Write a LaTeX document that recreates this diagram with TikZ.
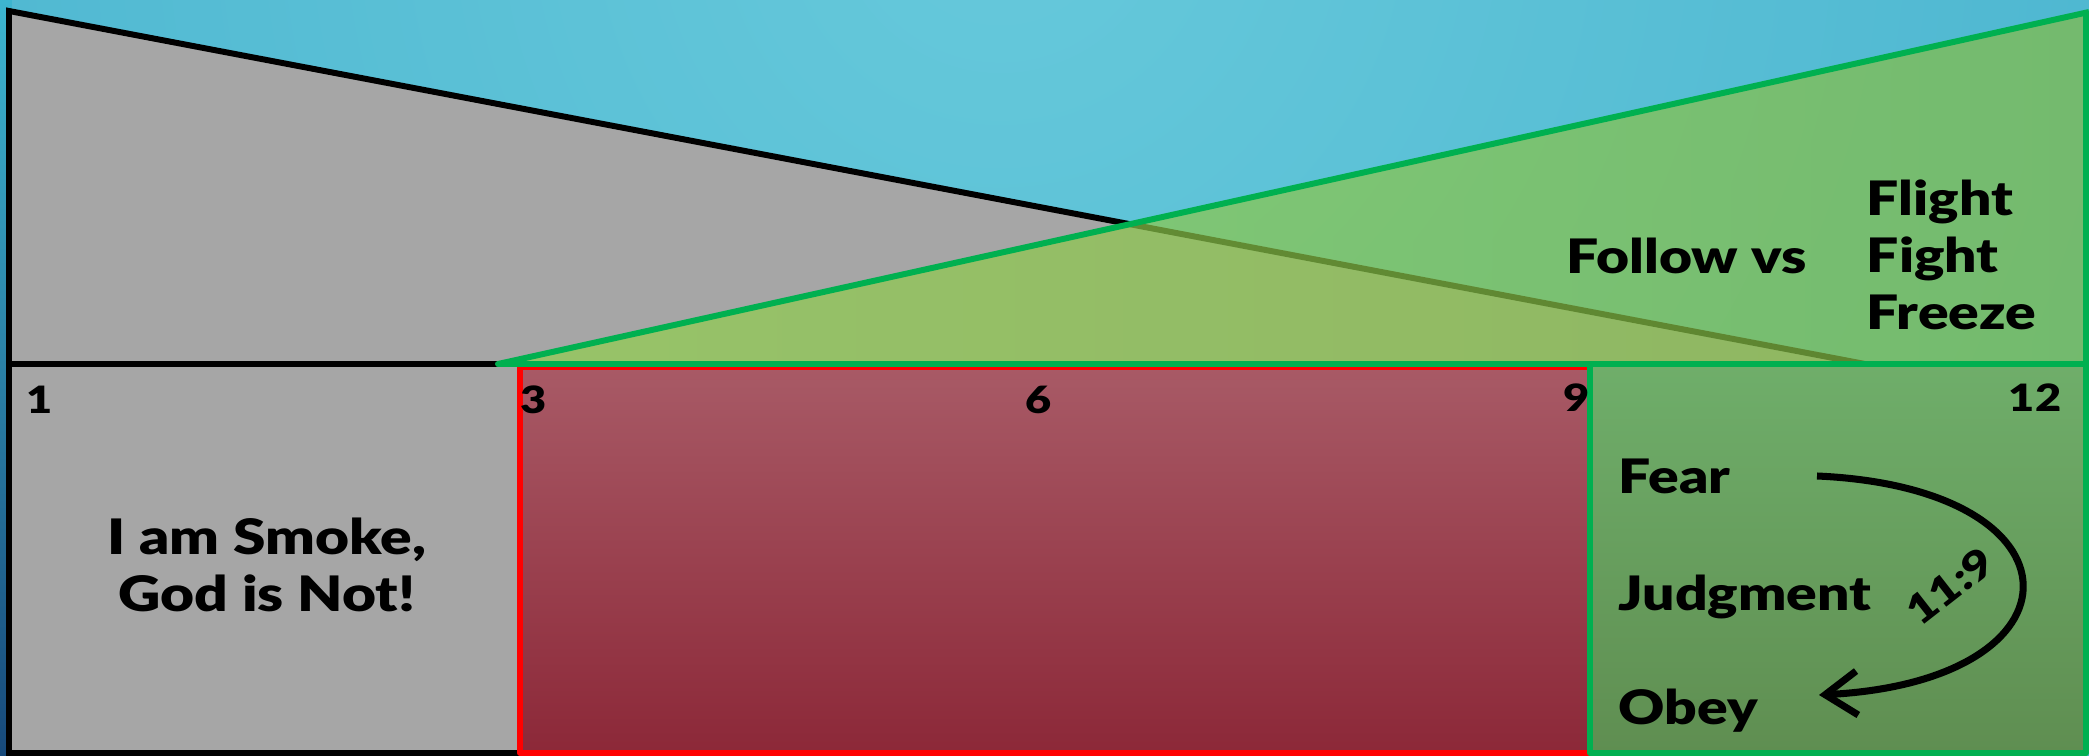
\documentclass[tikz,border=0pt]{standalone}
\usepackage{fontspec}
\setmainfont{Liberation Sans}
\newfontfamily\heavyfont{Lato Black}[FakeStretch=1.2]
\usetikzlibrary{arrows.meta}

\definecolor{bgmid}{HTML}{66C9DB}
\definecolor{bgout}{HTML}{2799C0}
\definecolor{bgleft}{HTML}{3DB5CF}
\definecolor{bgdark}{HTML}{17497A}
\definecolor{boxgray}{HTML}{A6A6A6}
\definecolor{redtop}{HTML}{A85A66}
\definecolor{redbot}{HTML}{8C2838}
\definecolor{greentop}{HTML}{6FAE6A}
\definecolor{greenbot}{HTML}{5F8E51}
\definecolor{lightgreen}{HTML}{92D050}
\definecolor{deepgreen}{HTML}{84BC44}
\definecolor{bordergreen}{HTML}{00B050}

\tikzset{
  lbl/.style={font=\heavyfont\fontsize{13.5}{16.3}\selectfont, inner sep=0pt},
  bigtxt/.style={font=\heavyfont\fontsize{13.9}{16}\selectfont, inner sep=0pt, align=center},
  num/.style={font=\heavyfont\fontsize{10.7}{12}\selectfont, inner sep=0pt},
  edge/.style={line width=1.7pt, line join=round},
}

\begin{document}
\begin{tikzpicture}
    \useasboundingbox (0,0) rectangle (20.89,7.56);
    \begin{scope}
        \clip (0,0) rectangle (20.89,7.56);
        \shade[inner color=bgmid, outer color=bgout] (10,8.5) circle (30);
    \end{scope}
    \shade[top color=bgleft, bottom color=bgdark] (0,0) rectangle (0.12,7.56);

    \fill[boxgray] (0.09,7.45) -- (18.65,3.92) -- (0.09,3.92) -- cycle;
    \fill[boxgray] (0.09,0.03) rectangle (5.20,3.92);
    \draw[line width=1.7pt] (18.65,3.92) -- (0.09,7.45) -- (0.09,0.03) -- (5.20,0.03);
    \draw[edge] (0.09,3.92) -- (5.0,3.92);

    \shade[top color=redtop, bottom color=redbot] (5.20,0.03) rectangle (15.90,3.89);
    \draw[edge, red] (5.20,0.03) rectangle (15.90,3.89);
    \shade[top color=greentop, bottom color=greenbot] (15.90,0.03) rectangle (20.86,3.92);
    \draw[edge, bordergreen] (15.90,0.03) rectangle (20.86,3.92);

    \shade[left color=lightgreen, right color=deepgreen, fill opacity=0.7] (4.98,3.92) -- (20.89,7.44) -- (20.89,3.92) -- cycle;
    \draw[edge, bordergreen] (20.86,3.92) -- (4.98,3.92) -- (20.89,7.44);
    \draw[edge, bordergreen] (20.86,7.44) -- (20.86,3.92);

    \node[num] (one) at (0.40,3.56) {1};
    \node[num] (three) at (5.34,3.56) {3};
    \node[num] (six) at (10.39,3.56) {6};
    \node[num] (nine) at (15.77,3.58) {9};
    \node[num] (twelve) at (20.35,3.58) {12};

    \node[bigtxt] (smoke) at (2.67,1.91) {I am Smoke,\\God is Not!};

    \node[lbl, anchor=west] (follow) at (15.66,5.00) {Follow vs};
    \node[lbl, anchor=west, align=left] (flight) at (18.66,5.01) {Flight\\Fight\\Freeze};

    \node[lbl, anchor=west] (fear) at (16.18,2.80) {Fear};
    \node[lbl, anchor=west] (judgment) at (16.18,1.59) {Judgment};
    \node[lbl, anchor=west] (obey) at (16.18,0.45) {Obey};
    \node[num, font=\heavyfont\fontsize{11.5}{12}\selectfont, rotate=38] (verse) at (19.50,1.70) {11:9};

    \coordinate (fromfear) at (18.17,2.80);
    \coordinate (toobey) at (18.19,0.61);
    \draw[line width=2pt, -{Straight Barb[length=3.2mm,width=4.4mm]}] (fromfear) .. controls (20.9,2.68) and (20.9,0.75) .. (toobey);
\end{tikzpicture}
\end{document}
